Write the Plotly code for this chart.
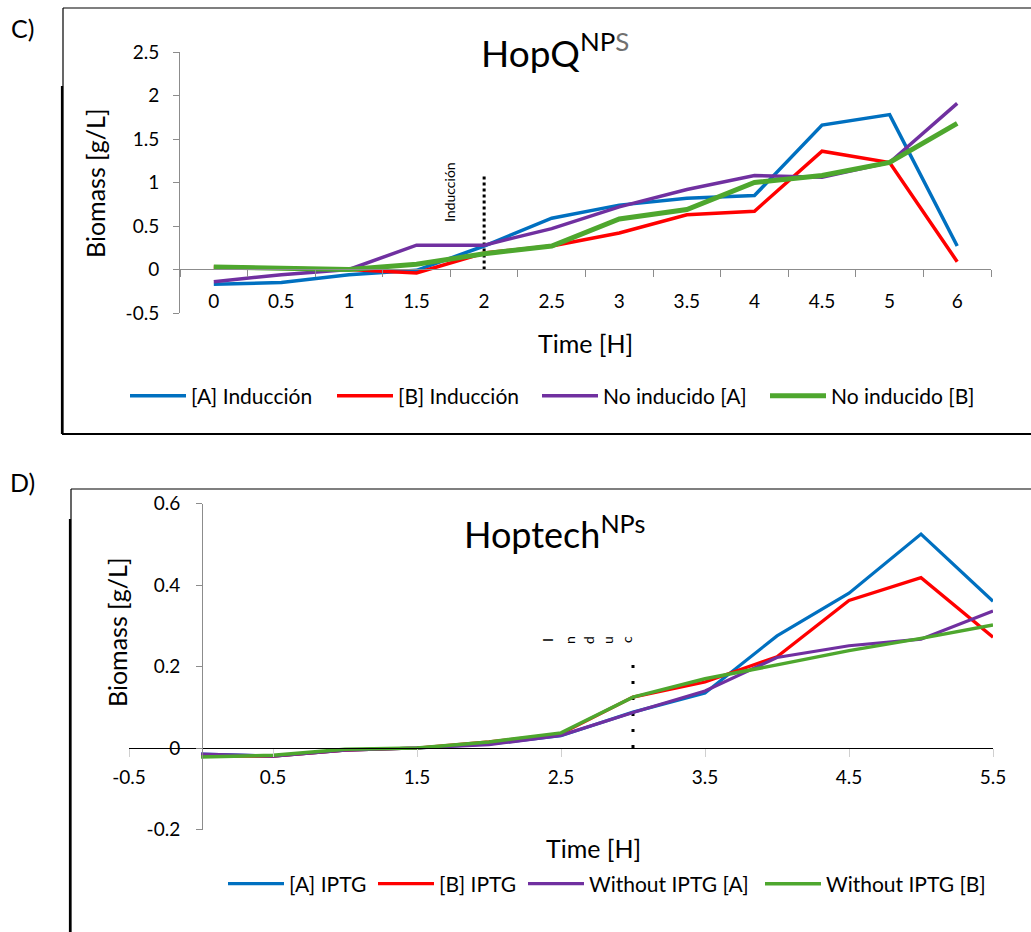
import plotly.graph_objects as go

W, H = 1031, 932
FONT = "Lato"


def px(x):
    return x / W


def py(y):
    return 1 - y / H


# ---- Panel C: HopQ NPs (category time axis) ----
time_c = ["0", "0.5", "1", "1.5", "2", "2.5", "3", "3.5", "4", "4.5", "5", "6"]
c_ind_a = [-0.17, -0.15, -0.06, -0.01, 0.27, 0.59, 0.74, 0.82, 0.85, 1.66, 1.78, 0.27]
c_ind_b = [0.03, 0.02, 0.0, -0.04, 0.19, 0.27, 0.42, 0.63, 0.67, 1.36, 1.23, 0.09]
c_no_a = [-0.14, -0.06, 0.0, 0.28, 0.28, 0.47, 0.72, 0.92, 1.08, 1.06, 1.23, 1.91]
c_no_b = [0.03, 0.01, 0.0, 0.06, 0.18, 0.27, 0.58, 0.69, 1.0, 1.08, 1.23, 1.68]
c_names = ["[A] Inducción", "[B] Inducción", "No inducido [A]", "No inducido [B]"]
c_yticks = [-0.5, 0, 0.5, 1, 1.5, 2, 2.5]
c_yticktext = ["-0.5", "0", "0.5", "1", "1.5", "2", "2.5"]
c_induction_time = "2"
c_induction_top = 1.1

# ---- Panel D: Hoptech NPs (numeric time axis) ----
time_d = [0, 0.5, 1, 1.5, 2, 2.5, 3, 3.5, 4, 4.5, 5, 5.5]
d_iptg_a = [-0.015, -0.02, -0.005, 0.0, 0.01, 0.03, 0.088, 0.135, 0.275, 0.38, 0.525, 0.36]
d_iptg_b = [-0.02, -0.02, -0.005, 0.0, 0.015, 0.035, 0.125, 0.162, 0.224, 0.362, 0.418, 0.272]
d_no_a = [-0.015, -0.02, -0.005, 0.0, 0.008, 0.031, 0.087, 0.14, 0.222, 0.251, 0.267, 0.336]
d_no_b = [-0.022, -0.018, -0.003, 0.0, 0.015, 0.037, 0.125, 0.17, 0.204, 0.239, 0.269, 0.302]
d_names = ["[A] IPTG", "[B] IPTG", "Without IPTG [A]", "Without IPTG [B]"]
d_xticks = [-0.5, 0.5, 1.5, 2.5, 3.5, 4.5, 5.5]
d_xticktext = ["-0.5", "0.5", "1.5", "2.5", "3.5", "4.5", "5.5"]
d_yticks = [-0.2, 0, 0.2, 0.4, 0.6]
d_yticktext = ["-0.2", "0", "0.2", "0.4", "0.6"]
d_induction_time = 3
d_induction_top = 0.21

colors = ["#0070C0", "#FF0000", "#7030A0", "#4EA72E"]
c_widths = [3.5, 3.5, 3.5, 5]
d_widths = [3.2, 3.2, 3.2, 3.5]

# left edge (px) of each legend entry; one single-entry legend per series
c_legend_left = [133, 340, 545, 773]
d_legend_left = [231, 381, 531, 768]
c_legend_y = 396
d_legend_y = 884

fig = go.Figure()

# induction markers (dotted verticals)
fig.add_trace(go.Scatter(
    x=[c_induction_time, c_induction_time], y=[0, c_induction_top],
    mode="lines", line=dict(color="black", width=3, dash="3px,3px"),
    showlegend=False, hoverinfo="skip", xaxis="x", yaxis="y"))
fig.add_trace(go.Scatter(
    x=[d_induction_time, d_induction_time], y=[0, d_induction_top],
    mode="lines", line=dict(color="black", width=3, dash="3px,13px"),
    showlegend=False, hoverinfo="skip", xaxis="x2", yaxis="y2"))

legend_font = dict(family=FONT, size=21, color="black")
legend_layout = {}
k = 0
for name, vals, col, w, left in zip(c_names, [c_ind_a, c_ind_b, c_no_a, c_no_b],
                                    colors, c_widths, c_legend_left):
    k += 1
    lid = "legend" if k == 1 else f"legend{k}"
    fig.add_trace(go.Scatter(
        x=time_c, y=vals, name=name, mode="lines",
        line=dict(color=col, width=w), legend=lid,
        xaxis="x", yaxis="y"))
    legend_layout[lid] = dict(
        orientation="h", x=px(left - 8), xanchor="left",
        y=py(c_legend_y), yanchor="middle", font=legend_font,
        bgcolor="rgba(0,0,0,0)", itemwidth=56)

for name, vals, col, w, left in zip(d_names, [d_iptg_a, d_iptg_b, d_no_a, d_no_b],
                                    colors, d_widths, d_legend_left):
    k += 1
    lid = f"legend{k}"
    fig.add_trace(go.Scatter(
        x=time_d, y=vals, name=name, mode="lines",
        line=dict(color=col, width=w), legend=lid,
        xaxis="x2", yaxis="y2"))
    legend_layout[lid] = dict(
        orientation="h", x=px(left - 8), xanchor="left",
        y=py(d_legend_y), yanchor="middle", font=legend_font,
        bgcolor="rgba(0,0,0,0)", itemwidth=56)

tick_font = dict(family=FONT, size=19, color="black")

fig.update_layout(
    width=W, height=H, autosize=False,
    margin=dict(l=0, r=0, t=0, b=0, pad=0),
    paper_bgcolor="white", plot_bgcolor="rgba(0,0,0,0)",
    font=dict(family=FONT, size=18, color="black"),
    xaxis=dict(
        type="category", categoryorder="array", categoryarray=time_c,
        domain=[px(180), px(991)], range=[-0.5, 11.5],
        anchor="free", position=py(269), automargin=False,
        tickson="boundaries", ticks="outside", ticklen=7, tickcolor="#8c8c8c",
        showline=True, linecolor="#8c8c8c", linewidth=1,
        showgrid=False, zeroline=False, tickfont=tick_font,
        ticklabelstandoff=15,
    ),
    yaxis=dict(
        domain=[py(313), py(52)], range=[-0.5, 2.5],
        anchor="x", automargin=False,
        tickvals=c_yticks, ticktext=c_yticktext,
        ticks="outside", ticklen=6, tickcolor="#8c8c8c",
        showline=True, linecolor="#8c8c8c", linewidth=1,
        showgrid=False, zeroline=False, tickfont=tick_font,
        ticklabelstandoff=10,
    ),
    xaxis2=dict(
        domain=[px(129), px(993)], range=[-0.5, 5.5],
        anchor="free", position=py(748), automargin=False,
        tickvals=d_xticks, ticktext=d_xticktext,
        ticks="outside", ticklen=8, tickcolor="#d0d0d0",
        showline=True, linecolor="black", linewidth=1,
        showgrid=False, zeroline=False, tickfont=tick_font,
        ticklabelstandoff=4,
    ),
    yaxis2=dict(
        domain=[py(829.5), py(503.5)], range=[-0.2, 0.6],
        anchor="free", position=px(202), automargin=False,
        tickvals=d_yticks, ticktext=d_yticktext,
        ticks="outside", ticklen=6, tickcolor="#8c8c8c",
        showline=True, linecolor="#8c8c8c", linewidth=1,
        showgrid=False, zeroline=False, tickfont=tick_font,
        ticklabelstandoff=12,
    ),
    **legend_layout,
)

annotations = [
    dict(text="C)", x=px(22), y=py(28), font=dict(size=25)),
    dict(text="D)", x=px(22), y=py(482), font=dict(size=25)),
    dict(text="HopQ<sup>NP<span style='color:#707070'>S</span></sup>",
         x=px(555), y=py(50), font=dict(size=37)),
    dict(text="Hoptech<sup>NPs</sup>", x=px(554), y=py(532), font=dict(size=36)),
    dict(text="Biomass [g/L]", x=px(95), y=py(183), textangle=-90, font=dict(size=25)),
    dict(text="Time [H]", x=px(585), y=py(343), font=dict(size=25)),
    dict(text="Biomass [g/L]", x=px(117), y=py(632), textangle=-90, font=dict(size=25)),
    dict(text="Time [H]", x=px(593), y=py(848), font=dict(size=25)),
    dict(text="Inducción", x=px(450), y=py(192), textangle=-90, font=dict(size=14)),
]
for ch, xc in zip("Induc", [547, 569, 588, 607, 626]):
    annotations.append(dict(text=ch, x=px(xc), y=py(640), textangle=-90, font=dict(size=14)))

fig.update_layout(annotations=[
    dict(a, xref="paper", yref="paper", showarrow=False,
         xanchor="center", yanchor="middle",
         font=dict(family=FONT, color="black", **a.pop("font")))
    for a in annotations
])

# panel frames
frame = dict(color="black", width=1.2)
shapes = [
    dict(type="line", x0=px(63), x1=1, y0=py(8), y1=py(8), line=frame),
    dict(type="line", x0=px(63), x1=px(63), y0=py(8), y1=py(434), line=frame),
    dict(type="line", x0=px(62), x1=1, y0=py(434), y1=py(434), line=dict(color="black", width=2)),
    dict(type="line", x0=px(62), x1=px(62), y0=py(86), y1=py(434), line=dict(color="black", width=2.2)),
    dict(type="line", x0=px(71), x1=1, y0=py(489), y1=py(489), line=frame),
    dict(type="line", x0=px(71), x1=px(71), y0=py(489), y1=0, line=frame),
    dict(type="line", x0=px(70), x1=px(70), y0=py(519), y1=0, line=dict(color="black", width=2.2)),
]
fig.update_layout(shapes=[dict(s, xref="paper", yref="paper") for s in shapes])

fig.write_html("out.html")
